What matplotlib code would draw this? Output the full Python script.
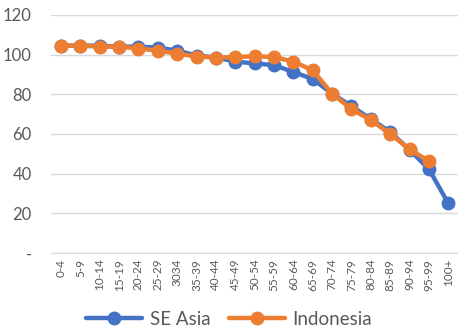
import matplotlib.pyplot as plt

# Age groups and ratio values for both series
age_groups = ["0-4", "5-9", "10-14", "15-19", "20-24", "25-29", "3034", "35-39",
              "40-44", "45-49", "50-54", "55-59", "60-64", "65-69", "70-74",
              "75-79", "80-84", "85-89", "90-94", "95-99", "100+"]
se_asia = [104.5, 104.5, 104.5, 104, 104, 103.5, 102, 99.5, 98.5, 96.5, 95.5,
           94.7, 91.2, 87.7, 80.3, 74, 67.5, 61, 52, 42.3, 25]
indonesia = [104.5, 104.5, 104, 104, 103, 102, 100.5, 99, 98.5, 98.7, 99.2,
             98.7, 96.5, 92, 80.3, 72.5, 67, 60, 52.3, 46.3]

blue = "#4472c4"
orange = "#ed7d31"
grey = "#595959"

plt.rcParams['font.family'] = ['Lato', 'DejaVu Sans']

fig = plt.figure(figsize=(4.58, 3.30), dpi=100)
ax = fig.add_axes([0.112, 0.233, 0.888, 0.722])

x_se = list(range(len(se_asia)))
x_id = list(range(len(indonesia)))
ax.plot(x_se, se_asia, color=blue, lw=3.2, marker="o", ms=9, label="SE Asia",
        solid_capstyle="round")
ax.plot(x_id, indonesia, color=orange, lw=3.2, marker="o", ms=9, label="Indonesia",
        solid_capstyle="round")

ax.set_xlim(-0.5, len(age_groups) - 0.5)
ax.set_ylim(0, 120)
ax.set_yticks(range(0, 121, 20))
ax.set_yticklabels(["-"] + [str(v) for v in range(20, 121, 20)], color=grey, fontsize=12)
ax.set_xticks(range(len(age_groups)))
ax.set_xticklabels(age_groups, rotation=90, color=grey, fontsize=8.5)
ax.tick_params(length=0, pad=4)
ax.tick_params(axis="y", pad=14)

ax.grid(axis="y", color="#d9d9d9", lw=1)
ax.set_axisbelow(True)
for side in ["top", "right", "left"]:
    ax.spines[side].set_visible(False)
ax.spines["bottom"].set_color("#d9d9d9")

leg = fig.legend(loc="lower center", bbox_to_anchor=(0.5, -0.045), ncol=2, frameon=False,
                 fontsize=13.5, handlelength=3.0, columnspacing=1.0, handletextpad=0.4)
for t in leg.get_texts():
    t.set_color(grey)

fig.savefig("out.png", dpi=100)
